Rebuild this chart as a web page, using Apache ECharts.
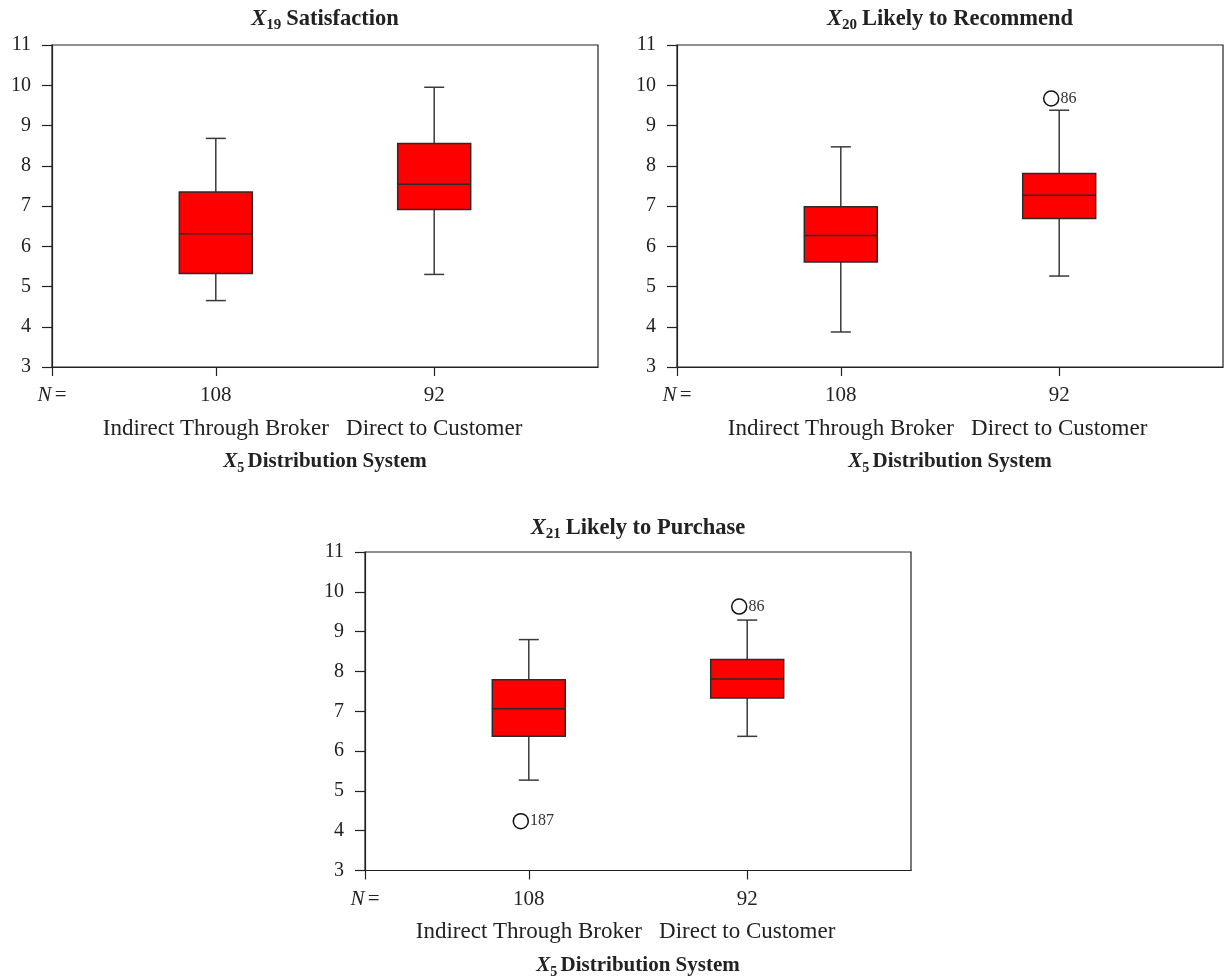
<!DOCTYPE html>
<html><head><meta charset="utf-8">
<script src="https://cdn.jsdelivr.net/npm/echarts@6/dist/echarts.min.js"></script>
<style>html,body{margin:0;padding:0;background:#fff}#c{width:1226px;height:980px}</style>
</head><body><div id="c"></div>
<script>
// ---------- data ----------
const panelSubscripts = ['19', '20', '21'];
const panelNames = ['Satisfaction', 'Likely to Recommend', 'Likely to Purchase'];
const categories = ['Indirect Through Broker', 'Direct to Customer'];
const groupN = ['108', '92'];
const categoryPos = [3, 7];            // positions on a 0..10 base axis
const xAxisSubscript = '5';
const xAxisName = 'Distribution System';
// each box: [min, Q1, median, Q3, max]
const satisfaction = [[4.65, 5.32, 6.31, 7.35, 8.68], [5.30, 6.91, 7.54, 8.55, 9.95]];
const recommend    = [[3.87, 5.61, 6.27, 6.98, 8.47], [5.26, 6.69, 7.27, 7.81, 9.38]];
const purchase     = [[5.27, 6.37, 7.06, 7.79, 8.80], [6.37, 7.33, 7.81, 8.30, 9.29]];
// outliers: [category index, value, case id]
const satisfactionOutliers = [];
const recommendOutliers = [[1, 9.67, '86']];
const purchaseOutliers = [[0, 4.24, '187'], [1, 9.63, '86']];
const yMin = 3, yMax = 11, yStep = 1;

// ---------- style ----------
const FONT = '"Liberation Serif", "DejaVu Serif", serif';
const INK = '#222';
const BOX_PX = 73, CAP_PX = 20;
const grids = [
  { left: 52, top: 45, width: 546, height: 322 },
  { left: 677, top: 45, width: 546, height: 322 },
  { left: 365, top: 552, width: 546, height: 323 }
];
const titleTops = [6, 6, 515];
const boxSets = [satisfaction, recommend, purchase];
const outlierSets = [satisfactionOutliers, recommendOutliers, purchaseOutliers];

function subRich(size) {
  return {
    x: { fontFamily: FONT, fontSize: size, fontWeight: 'bold', fontStyle: 'italic', color: INK, lineHeight: 26 },
    s: { fontFamily: FONT, fontSize: Math.round(size * 0.67), fontWeight: 'bold', color: INK, lineHeight: 26, padding: [13, 0, 0, 0] },
    b: { fontFamily: FONT, fontSize: size, fontWeight: 'bold', color: INK, lineHeight: 26 }
  };
}

function boxRender(params, api) {
  const x = api.value(0);
  const c = v => api.coord([x, v]);
  const pMin = c(api.value(1)), pQ1 = c(api.value(2)), pMed = c(api.value(3)),
        pQ3 = c(api.value(4)), pMax = c(api.value(5));
  const cx = pMed[0];
  const hb = BOX_PX / 2, hc = CAP_PX / 2;
  const wStyle = { stroke: '#3a3a3a', lineWidth: 1.5 };
  const bStyle = { stroke: '#2b2b2b', lineWidth: 1.5 };
  return {
    type: 'group',
    children: [
      { type: 'line', shape: { x1: cx, y1: pMax[1], x2: cx, y2: pQ3[1] }, style: wStyle },
      { type: 'line', shape: { x1: cx - hc, y1: pMax[1], x2: cx + hc, y2: pMax[1] }, style: wStyle },
      { type: 'line', shape: { x1: cx, y1: pQ1[1], x2: cx, y2: pMin[1] }, style: wStyle },
      { type: 'line', shape: { x1: cx - hc, y1: pMin[1], x2: cx + hc, y2: pMin[1] }, style: wStyle },
      { type: 'rect', shape: { x: cx - hb, y: pQ3[1], width: BOX_PX, height: pQ1[1] - pQ3[1] },
        style: Object.assign({ fill: '#ff0000' }, bStyle) },
      { type: 'line', shape: { x1: cx - hb, y1: pMed[1], x2: cx + hb, y2: pMed[1] }, style: bStyle }
    ]
  };
}

const option = {
  animation: false,
  backgroundColor: '#fff',
  title: grids.map((g, i) => ({
    text: '{x|X}{s|' + panelSubscripts[i] + '} {b|' + panelNames[i] + '}',
    left: g.left + g.width / 2, top: titleTops[i], textAlign: 'center', padding: 0,
    textStyle: { rich: subRich(22.5) }
  })),
  grid: grids.map(g => Object.assign({ show: true, borderColor: INK, borderWidth: 1.2, containLabel: false }, g)),
  xAxis: grids.map((g, i) => ({
    type: 'value', gridIndex: i, min: 0, max: 10,
    splitLine: { show: false },
    axisLine: { show: true, lineStyle: { color: INK, width: 1.2 } },
    axisTick: { show: true, customValues: [0].concat(categoryPos), length: 9, lineStyle: { color: INK, width: 1.2 } },
    axisLabel: {
      show: true, customValues: [0].concat(categoryPos), margin: 12, showMinLabel: true, showMaxLabel: true,
      hideOverlap: false,
      formatter: function (v) {
        if (v === 0) return '{n|N} {e|=}\n{c| }';
        const k = categoryPos.indexOf(v);
        return '{e|' + groupN[k] + '}\n{c|' + categories[k] + '}';
      },
      rich: {
        n: { fontFamily: FONT, fontSize: 21, fontStyle: 'italic', color: INK, lineHeight: 33 },
        e: { fontFamily: FONT, fontSize: 21, color: INK, lineHeight: 33 },
        c: { fontFamily: FONT, fontSize: 23, color: INK, lineHeight: 33 }
      }
    },
    name: '{x|X}{s|' + xAxisSubscript + '} {b|' + xAxisName + '}',
    nameLocation: 'middle', nameGap: 82, nameMoveOverlap: false,
    nameTextStyle: { rich: subRich(21) }
  })),
  yAxis: grids.map((g, i) => ({
    type: 'value', gridIndex: i, min: yMin, max: yMax, interval: yStep,
    splitLine: { show: false },
    axisLine: { show: true, lineStyle: { color: INK, width: 1.2 } },
    axisTick: { show: true, length: 10, lineStyle: { color: INK, width: 1.2 } },
    axisLabel: { fontFamily: FONT, fontSize: 20, color: INK, margin: 21 }
  })),
  series: []
};

boxSets.forEach((set, i) => {
  option.series.push({
    type: 'custom', xAxisIndex: i, yAxisIndex: i,
    renderItem: boxRender,
    encode: { x: 0, y: [1, 2, 3, 4, 5] },
    data: set.map((b, k) => [categoryPos[k]].concat(b)),
    z: 2
  });
  option.series.push({
    type: 'scatter', xAxisIndex: i, yAxisIndex: i,
    data: outlierSets[i].map(o => [categoryPos[o[0]], o[1], o[2]]),
    symbol: 'circle', symbolSize: 15, symbolOffset: [-8, 0],
    itemStyle: { color: '#fff', borderColor: '#111', borderWidth: 1.5, opacity: 1 },
    label: { show: true, position: 'right', distance: 1, formatter: p => p.data[2],
      fontFamily: FONT, fontSize: 16, color: '#333' },
    z: 3
  });
});

const chart = echarts.init(document.getElementById('c'), null, { renderer: 'canvas' });
chart.setOption(option);
</script>
</body></html>
